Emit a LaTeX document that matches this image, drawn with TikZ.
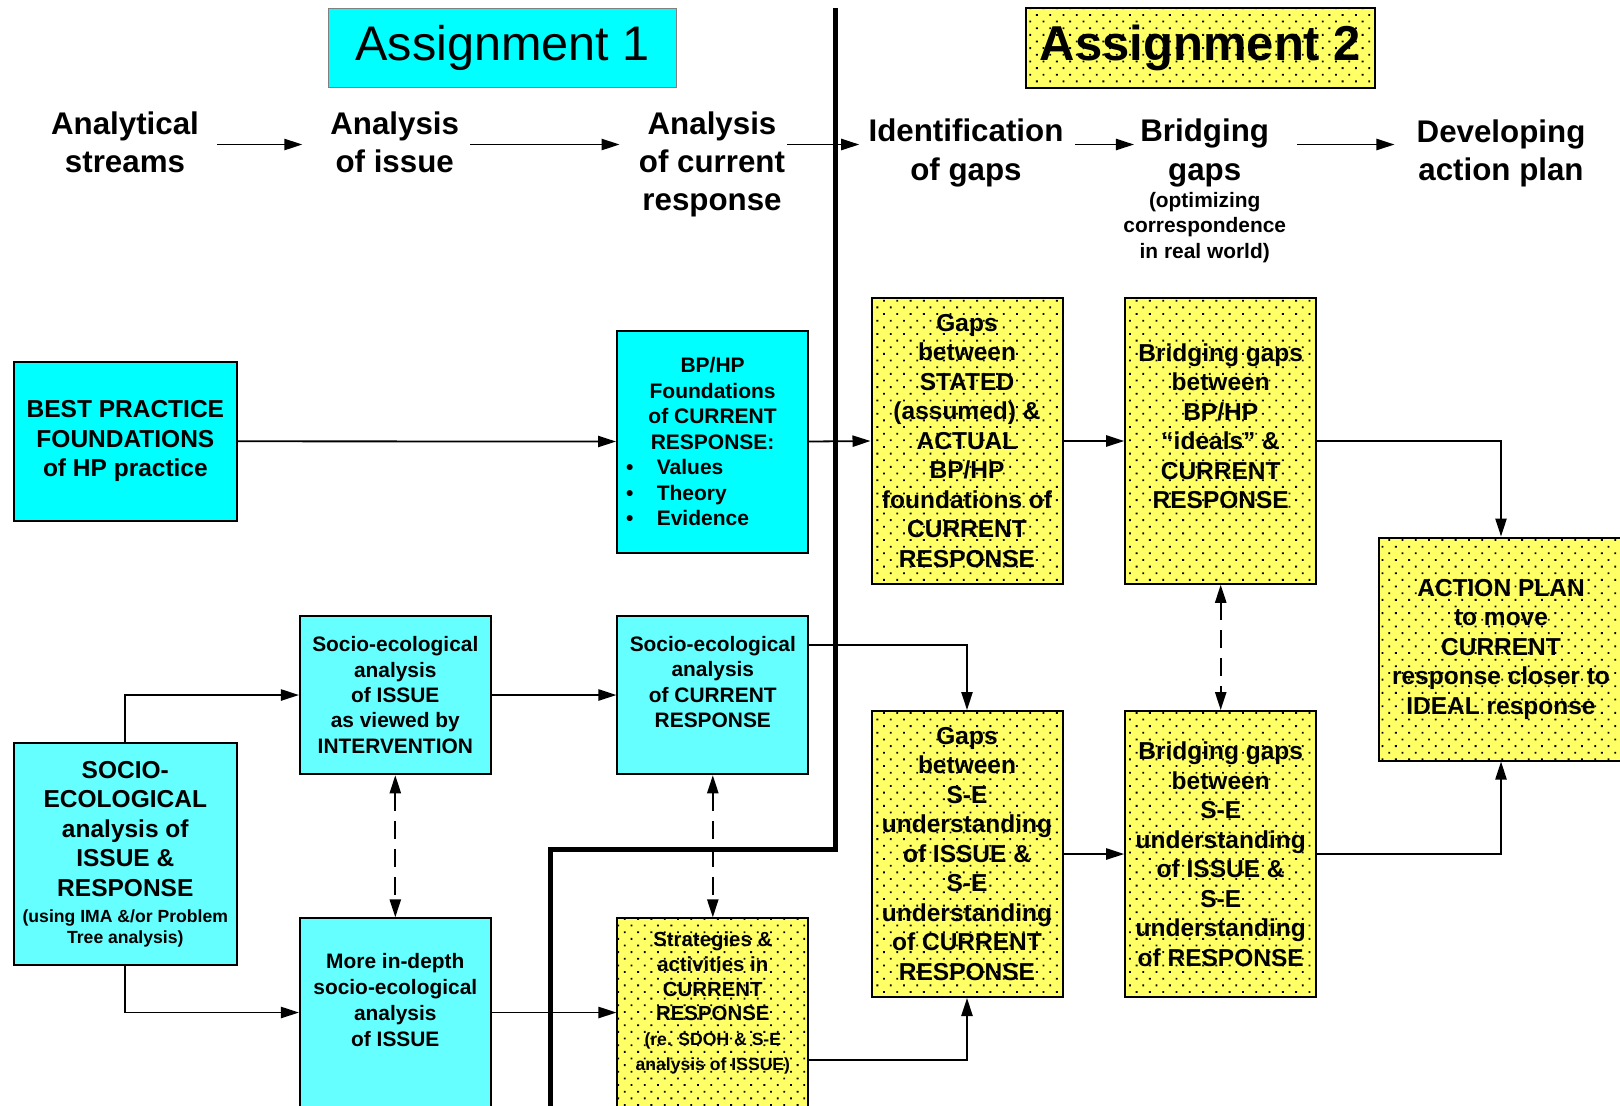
\documentclass[tikz,border=0pt]{standalone}
\usepackage{fontspec}
\setmainfont{Liberation Sans}
\usetikzlibrary{arrows.meta,patterns.meta}
\definecolor{aqua}{RGB}{0,255,255}
\definecolor{paleaqua}{RGB}{102,255,255}
\definecolor{lemon}{RGB}{255,255,102}
\newcommand{\bigtxt}{\fontsize{12.25}{14.75}\selectfont\bfseries}
\newcommand{\midtxt}{\fontsize{10.45}{12.65}\selectfont\bfseries}
\newcommand{\smalltxt}{\fontsize{8.8}{10.85}\selectfont\bfseries}
\newcommand{\headtxt}{\fontsize{15.65}{19.1}\selectfont\bfseries}
\newcommand{\bpitem}[1]{\makebox[95pt][l]{\hspace{4.3pt}\makebox[15.3pt][l]{\textbullet}#1}}
\tikzset{>={Triangle[length=9pt,width=5.6pt]}}
\tikzset{%
    cyanbox/.style={draw, line width=1pt, fill=aqua, inner sep=0pt, align=center},
    palebox/.style={cyanbox, fill=paleaqua},
    dotbox/.style={draw, line width=1pt, fill=lemon, inner sep=0pt, align=center,
        postaction={pattern={Dots[distance=4.7pt,angle=45,radius=0.65pt]}, pattern color=black}},
    stagehead/.style={align=center, font=\headtxt, inner sep=0pt},
    link/.style={->, line width=0.9pt},
    twoway/.style={<->, line width=0.9pt, dash pattern=on 9pt off 5pt}
}

\begin{document}
\begin{tikzpicture}[x=0.5pt, y=-0.5pt]
    \useasboundingbox (0,0) rectangle (1620,1105);
    \clip (0,0) rectangle (1620,1105);
    % titles
    \node[cyanbox, draw=gray, line width=0.6pt, minimum width=174pt, minimum height=39.75pt,
          font=\fontsize{24.3}{29}\selectfont] (titleA) at (502.6,48) {Assignment 1};
    \node[dotbox, minimum width=174.5pt, minimum height=39.75pt,
          font=\fontsize{24.5}{29}\selectfont\bfseries] (titleB) at (1200.5,48) {Assignment 2};
    % stages
    \coordinate (lane) at (0,144.5);
    \node[stagehead] (streams) at (125,142) {Analytical\\streams};
    \node[stagehead] (issue) at (394.7,142) {Analysis\\of issue};
    \node[stagehead] (current) at (712,164.5) {Analysis\\of current\\response};
    \node[stagehead] (gaps) at (966,153) {Identification\\of gaps};
    \node[stagehead] (bridge) at (1204.7,153) {Bridging\\gaps};
    \node[align=center, font=\midtxt, inner sep=0pt] (bridgeSub) at (1204.7,227.5)
        {(optimizing\\correspondence\\in real world)};
    \node[stagehead] (plan) at (1501,153) {Developing\\action plan};
    \draw[link] ([xshift=9pt]streams.east |- lane) -- ([xshift=-13.8pt]issue.west |- lane);
    \draw[link] ([xshift=5.5pt]issue.east |- lane) -- ([xshift=-9.5pt]current.west |- lane);
    \draw[link] ([xshift=1pt]current.east |- lane) -- ([xshift=-4.5pt]gaps.west |- lane);
    \draw[link] ([xshift=5.5pt]gaps.east |- lane) -- ([xshift=-3pt]bridge.west |- lane);
    \draw[link] ([xshift=13.9pt]bridge.east |- lane) -- ([xshift=-10.9pt]plan.west |- lane);
    % top row
    \node[cyanbox, minimum width=111.3pt, minimum height=79.7pt, font=\bigtxt] (best) at (125.4,441.3)
        {BEST PRACTICE\\FOUNDATIONS\\of HP practice};
    \node[cyanbox, minimum width=95.6pt, minimum height=111pt,
          font=\fontsize{10.5}{12.75}\selectfont\bfseries] (bphp) at (712.6,441.5)
        {BP/HP\\Foundations\\of CURRENT\\RESPONSE:\\\bpitem{Values}\\\bpitem{Theory}\\\bpitem{Evidence}};
    \node[dotbox, minimum width=95.5pt, minimum height=142.75pt, font=\bigtxt] (gapsA) at (967,441)
        {Gaps\\between\\STATED\\(assumed) \&\\ACTUAL\\BP/HP\\foundations of\\CURRENT\\RESPONSE};
    \node[dotbox, minimum width=95.5pt, minimum height=142.75pt] (bridgeA) at (1220.7,441) {};
    \node[align=center, font=\bigtxt, inner sep=0pt] (bridgeAtext) at (1220.7,426.2)
        {Bridging gaps\\between\\BP/HP\\``ideals'' \&\\CURRENT\\RESPONSE};
    \node[dotbox, minimum width=122pt, minimum height=111.5pt, font=\bigtxt] (action) at (1501,649)
        {ACTION PLAN\\to move\\CURRENT\\response closer to\\IDEAL response};
    % socio-ecological rows
    \node[palebox, minimum width=95.35pt, minimum height=79.3pt, font=\midtxt] (socIssue) at (395.3,695)
        {Socio-ecological\\analysis\\of ISSUE\\as viewed by\\INTERVENTION};
    \node[palebox, minimum width=95.35pt, minimum height=79.3pt] (socResp) at (712.8,695) {};
    \node[align=center, font=\midtxt, inner sep=0pt] (socResptext) at (712.8,681.9)
        {Socio-ecological\\analysis\\of CURRENT\\RESPONSE};
    \node[palebox, minimum width=111.35pt, minimum height=110.85pt, font=\bigtxt] (socEco) at (125.3,854.2)
        {SOCIO-\\ECOLOGICAL\\analysis of\\ISSUE \&\\RESPONSE\\[-1.85pt]{\smalltxt (using IMA \&/or Problem}\\[-3.9pt]{\smalltxt Tree analysis)}};
    \node[palebox, minimum width=95.35pt, minimum height=110pt, anchor=north] (deeper) at (395.3,917.3) {};
    \node[align=center, font=\fontsize{10.45}{12.9}\selectfont\bfseries, inner sep=0pt] (deepertext) at (395.3,1000)
        {More in-depth\\socio-ecological\\analysis\\of ISSUE};
    \node[dotbox, minimum width=95.35pt, minimum height=110pt, anchor=north] (strat) at (712.8,917.3) {};
    \node[align=center, font=\fontsize{10.2}{12.4}\selectfont\bfseries, inner sep=0pt] (strattext) at (712.8,1003)
        {Strategies \&\\activities in\\CURRENT\\RESPONSE\\{\fontsize{8.8}{10}\selectfont (re. SDOH \& S-E}\\{\fontsize{8.8}{10}\selectfont analysis of ISSUE)}};
    \node[dotbox, minimum width=95.5pt, minimum height=143pt, font=\bigtxt] (gapsB) at (967,854)
        {Gaps\\between\\S-E\\understanding\\of ISSUE \&\\S-E\\understanding\\of CURRENT\\RESPONSE};
    \node[dotbox, minimum width=95.5pt, minimum height=143pt, font=\bigtxt] (bridgeB) at (1220.7,854)
        {Bridging gaps\\between\\S-E\\understanding\\of ISSUE \&\\S-E\\understanding\\of RESPONSE};
    % connectors
    \draw[link] (best.east) -- (bphp.west);
    \draw[link] (bphp.east) -- (gapsA.west);
    \draw[link] (gapsA) -- (bridgeA);
    \draw[link] (bridgeA.east) -| (action.north);
    \draw[link] (bridgeB.east) -| (action.south);
    \draw[link] (gapsB) -- (bridgeB);
    \draw[link] ([yshift=-15pt]socResp.north east) -| (gapsB.north);
    \draw[link] ([yshift=-71.4pt]strat.north east) -| (gapsB.south);
    \draw[link] (socIssue) -- (socResp);
    \draw[link] ([yshift=-47.6pt]deeper.north east) -- ([yshift=-47.6pt]strat.north west);
    \draw[link] (socEco.north) |- (socIssue.west);
    \draw[link] (socEco.south) |- ([yshift=-47.6pt]deeper.north west);
    \draw[twoway] (socIssue.south) -- (deeper.north);
    \draw[twoway] (socResp.south) -- (strat.north);
    \draw[twoway] (bridgeA.south) -- (bridgeB.north);
    % divider between the two assignments
    \draw[line width=2.5pt] (835,8) -- (835,849.3) -- (550,849.3) -- (550,1110);
\end{tikzpicture}
\end{document}
